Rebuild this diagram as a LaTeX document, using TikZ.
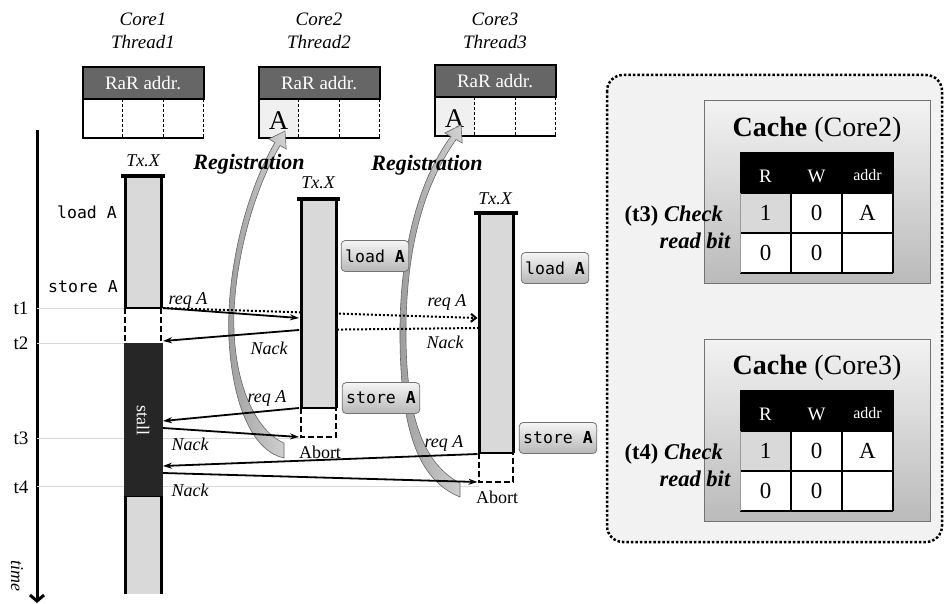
\documentclass[tikz,border=0pt]{standalone}
\usepackage{fontspec}
\setmainfont{Liberation Serif}
\setmonofont{DejaVu Sans Mono}
\usetikzlibrary{arrows.meta}
\definecolor{bargray}{HTML}{D9D9D9}
\definecolor{stallc}{HTML}{262626}
\definecolor{hdrc}{HTML}{666666}
\definecolor{panelc}{HTML}{F2F2F2}
\definecolor{guidec}{HTML}{D9D9D9}
\definecolor{cellA}{HTML}{F0F0F0}
\newcommand{\fs}[1]{\fontsize{#1}{#1}\selectfont}
\tikzset{
 lab/.style={font=\fs{18}\itshape, inner sep=0pt},
 tlab/.style={font=\fs{19}, inner sep=0pt},
 core/.style={font=\fontsize{19}{23}\selectfont\itshape, align=center, inner sep=0pt},
 txx/.style={font=\fs{18}\itshape, inner sep=0pt},
 reg/.style={font=\fs{22}\bfseries\itshape, inner sep=0pt},
 code/.style={font=\fs{16.5}\ttfamily, inner sep=0pt},
 opbox/.style={draw=black!55, line width=0.8pt, rounded corners=4pt, top color=black!4, bottom color=black!28, font=\fs{16.5}\ttfamily, minimum height=31pt, inner xsep=4pt},
 rarhead/.style={fill=hdrc, draw=black, line width=2pt, minimum width=121pt, minimum height=32pt, inner sep=0pt, text=white, font=\fs{19}},
 side/.style={line width=3pt},
 dside/.style={line width=2.5pt, dash pattern=on 6pt off 3pt},
 capline/.style={line width=4pt},
 sarrow/.style={line width=1.8pt, -{Stealth[length=9pt,width=6pt]}},
 darrow/.style={line width=2pt, dash pattern=on 2pt off 2pt, -{Straight Barb[length=5pt,width=8pt]}},
 ribbon/.style={left color=black!38, right color=black!18, draw=black!60, line width=0.6pt},
 cachebox/.style={draw=black!55, line width=1pt, top color=black!5, bottom color=black!27},
 guide/.style={draw=guidec, line width=0.8pt},
 cell/.style={font=\fs{23}, inner sep=0pt},
 chkl/.style={anchor=east, align=right, font=\fontsize{22.5}{27}\selectfont, inner sep=0pt},
}
\newcommand{\RaRtab}[4]{%
 \fill[#4] (#1-60.5,#2+32) rectangle (#1-20.2,#2+71);
 \node[rarhead] (#3h) at (#1,#2+16) {RaR addr.};
 \draw[line width=2pt] (#1+60.5,#2+71) -- (#1-60.5,#2+71) -- (#1-60.5,#2+32);
 \draw[line width=1pt, dash pattern=on 3pt off 2pt] (#1-20.2,#2+32) -- (#1-20.2,#2+71) (#1+20.2,#2+32) -- (#1+20.2,#2+71) (#1+60.5,#2+32) -- (#1+60.5,#2+71);
}
\newcommand{\chktext}[1]{\textbf{(#1)} \textbf{\textit{Check}}\hspace*{8pt}\\\textbf{\textit{read bit}}}
\newcommand{\cachetab}[3]{%
 \draw[cachebox] (704,#1) rectangle (930,#1+182);
 \node[font=\fs{28}, inner sep=0pt] (cap#2) at (817,#1+29) {\textbf{Cache} (#2)};
 \fill[black] (740,#1+51) rectangle (893,#1+92);
 \fill[bargray] (740,#1+92) rectangle (791,#1+132);
 \fill[white] (791,#1+92) rectangle (893,#1+172);
 \fill[white] (740,#1+132) rectangle (791,#1+172);
 \draw[line width=2pt] (740,#1+92) -- (893,#1+92) (740,#1+132) -- (893,#1+132) (740,#1+172) -- (893,#1+172)
   (791,#1+92) -- (791,#1+172) (842,#1+92) -- (842,#1+172) (893,#1+51) -- (893,#1+172);
 \draw[black!40, line width=1pt] (740,#1+92) -- (740,#1+172);
 \node[font=\fs{19}, text=white, inner sep=0pt] (hR#2) at (765.5,#1+75) {R};
 \node[font=\fs{19}, text=white, inner sep=0pt] (hW#2) at (816.5,#1+75) {W};
 \node[font=\fs{16}, text=white, inner sep=0pt] (hA#2) at (867.5,#1+74) {addr};
 \node[cell] (v11#2) at (765.5,#1+112) {1};
 \node[cell] (v12#2) at (816.5,#1+112) {0};
 \node[cell] (v13#2) at (867.5,#1+112) {A};
 \node[cell] (v21#2) at (765.5,#1+152) {0};
 \node[cell] (v22#2) at (816.5,#1+152) {0};
 \node[chkl] (chk#2) at (731,#1+126) {\chktext{#3}};
}
\begin{document}
\begin{tikzpicture}[x=1pt,y=-1pt]
\useasboundingbox (0,0) rectangle (944,604);
\fill[white] (0,0) rectangle (944,604);

% right panel
\draw[line width=2.5pt, dash pattern=on 2.5pt off 2pt, rounded corners=16pt, fill=panelc] (607,75) rectangle (942,542);
\cachetab{101}{Core2}{t3}
\cachetab{339}{Core3}{t4}

% core labels
\node[core] (core1) at (143,31) {Core1\\Thread1};
\node[core] (core2) at (319,31) {Core2\\Thread2};
\node[core] (core3) at (495,31) {Core3\\Thread3};

% RaR tables
\RaRtab{143}{67}{ra}{white}
\RaRtab{319}{67}{rb}{cellA}
\RaRtab{495}{65}{rc}{cellA}
\node[font=\fs{27}, inner sep=0pt] (Ab) at (278.7,121) {A};
\node[font=\fs{27}, inner sep=0pt] (Ac) at (454.7,119) {A};

% time axis
\coordinate (ax0) at (37,130);
\coordinate (ax1) at (37,603);
\draw[line width=3pt, -{Straight Barb[length=6pt,width=14pt]}] (ax0) -- (ax1);
\node[font=\fs{18}\itshape, rotate=-90, inner sep=0pt] (time) at (17,576) {time};

% guide lines
\draw[guide] (37,308) -- (125,308);
\draw[guide] (37,343) -- (125,343);
\draw[guide] (37,438) -- (301,438);
\draw[guide] (37,486) -- (479,486);
\node[tlab] (t1) at (21,308) {t1};
\node[tlab] (t2) at (21,343) {t2};
\node[tlab] (t3) at (21,438) {t3};
\node[tlab] (t4) at (21,487) {t4};

% registration ribbons
\path[ribbon] (285,131) -- (286.2,149) -- (280.1,145.5) .. controls (248,200) and (232,280) .. (234,330) .. controls (236,390) and (258,432) .. (284,443) -- (284,458) .. controls (255,452) and (233,410) .. (229,340) .. controls (226,280) and (242,200) .. (274.9,142.5) -- (268.8,139) -- cycle;
\path[ribbon] (461,125) -- (462.2,143) -- (456.1,139.5) .. controls (420,190) and (405,260) .. (406,340) .. controls (407,420) and (425,465) .. (460,483) -- (460,497) .. controls (418,480) and (401,430) .. (400,340) .. controls (399,260) and (415,185) .. (450.9,136.5) -- (444.8,133) -- cycle;
\node[reg] (reg1) at (249,164) {Registration};
\node[reg] (reg2) at (427,165) {Registration};

% arrow end points
\coordinate (c1a) at (163,308);
\coordinate (c2a) at (299,318);
\coordinate (c3a) at (477.5,318);
\coordinate (c2b) at (299,330);
\coordinate (c1b) at (163,341);
\coordinate (c3b) at (479,328);
\coordinate (c2c) at (299,408);
\coordinate (c1c) at (163,421);
\coordinate (c1d) at (163,428);
\coordinate (c2d) at (299,437);
\coordinate (c3e) at (477.5,454);
\coordinate (c1e) at (163,466);
\coordinate (c1f) at (163,473);
\coordinate (c3f) at (477.5,482);

% dotted messages to/from core3
\draw[darrow] (c1a) -- (c3a);
\draw[line width=2pt, dash pattern=on 2pt off 2pt] (c3b) -- (c2b);

% column 1 bar
\fill[bargray] (125,176) rectangle (161,308);
\draw[side] (125,176) -- (125,308) (161,176) -- (161,308);
\draw[capline] (121,176) -- (165,176);
\draw[line width=2.5pt] (125,308) -- (161,308);
\draw[dside] (125,308) -- (125,343) (161,308) -- (161,343);
\fill[stallc] (123.5,343) rectangle (162.5,497);
\draw[line width=3pt] (123.5,497) -- (162.5,497);
\fill[bargray] (125,497) rectangle (161,594);
\draw[side] (125,497) -- (125,594) (161,497) -- (161,594);
\node[rotate=-90, text=white, font=\fs{18}, inner sep=0pt] (stall) at (143,420) {stall};

% column 2 bar
\fill[bargray] (301,199) rectangle (336,408);
\draw[side] (301,199) -- (301,408) (336,199) -- (336,408);
\draw[capline] (297,199) -- (340,199);
\draw[line width=2.5pt] (301,408) -- (336,408);
\draw[dside] (301,408) -- (301,437) -- (336,437) -- (336,408);

% column 3 bar
\fill[bargray] (479,213) rectangle (513,453);
\draw[side] (479,213) -- (479,453) (513,213) -- (513,453);
\draw[capline] (474,213) -- (518,213);
\draw[line width=2.5pt] (479,453) -- (513,453);
\draw[dside] (479,453) -- (479,482) -- (513,482) -- (513,453);

% solid messages
\draw[sarrow] (c1a) -- (c2a);
\draw[sarrow] (c2b) -- (c1b);
\draw[sarrow] (c2c) -- (c1c);
\draw[sarrow] (c1d) -- (c2d);
\draw[sarrow] (c3e) -- (c1e);
\draw[sarrow] (c1f) -- (c3f);

% labels
\node[txx] (tx1) at (143,161) {Tx.X};
\node[txx] (tx2) at (318,183) {Tx.X};
\node[txx] (tx3) at (495,199) {Tx.X};
\node[code] (ldA) at (87,212) {load A};
\node[code] (stA) at (83,287) {store A};
\node[opbox] (l2) at (375,256) {load \textbf{A}};
\node[opbox] (s2) at (381,398) {store \textbf{A}};
\node[opbox] (l3) at (555,268) {load \textbf{A}};
\node[opbox] (s3) at (558,438) {store \textbf{A}};
\node[lab] (q1) at (188,300) {req A};
\node[lab] (q2) at (447,302) {req A};
\node[lab] (n1) at (269,348) {Nack};
\node[lab] (n2) at (445,342) {Nack};
\node[lab] (q3) at (267,398) {req A};
\node[lab] (n3) at (190,444) {Nack};
\node[lab] (q4) at (444,443) {req A};
\node[lab] (n4) at (190,490) {Nack};
\node[font=\fs{18}, inner sep=0pt] (ab2) at (320,452) {Abort};
\node[font=\fs{18}, inner sep=0pt] (ab3) at (497,497) {Abort};
\end{tikzpicture}
\end{document}
